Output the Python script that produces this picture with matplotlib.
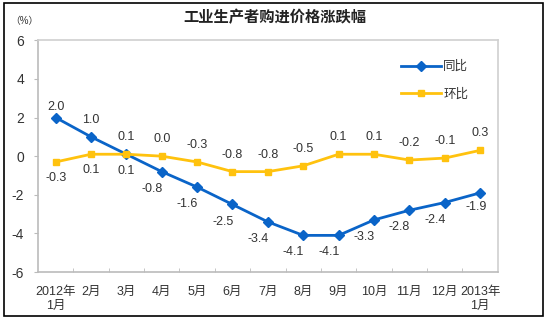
import matplotlib
matplotlib.use('Agg')
import matplotlib.pyplot as plt
from matplotlib.patches import Rectangle

plt.rcParams['font.family'] = ['Liberation Sans', 'Noto Sans CJK SC']

# 数据
months = ['2012年\n1月', '2月', '3月', '4月', '5月', '6月', '7月', '8月', '9月',
          '10月', '11月', '12月', '2013年\n1月']
yoy = [2.0, 1.0, 0.1, -0.8, -1.6, -2.5, -3.4, -4.1, -4.1, -3.3, -2.8, -2.4, -1.9]
mom = [-0.3, 0.1, 0.1, 0.0, -0.3, -0.8, -0.8, -0.5, 0.1, 0.1, -0.2, -0.1, 0.3]

blue = '#0A64C8'
yellow = '#FFC20E'
txt = '#333333'

fig = plt.figure(figsize=(5.5, 3.22), dpi=100)
ax = fig.add_axes([0.069, 0.155, 0.836, 0.72])

x = list(range(len(months)))
ax.plot(x, yoy, color=blue, lw=2, marker='D', ms=5, label='同比')
ax.plot(x, mom, color=yellow, lw=2, marker='s', ms=5, label='环比')

# 数据标签
for i, v in enumerate(yoy):
    if i == 0:
        ax.annotate(f'{v:.1f}', (i, v), xytext=(0, 3), textcoords='offset points',
                    ha='center', va='bottom', fontsize=9, color=txt)
    elif i == 1:
        ax.annotate(f'{v:.1f}', (i, v), xytext=(0, 8), textcoords='offset points',
                    ha='center', va='bottom', fontsize=9, color=txt)
    elif i == 2:
        ax.annotate(f'{v:.1f}', (i, v), xytext=(0, -8), textcoords='offset points',
                    ha='center', va='top', fontsize=9, color=txt)
    elif i == len(yoy) - 1:
        ax.annotate(f'{v:.1f}', (i, v), xytext=(-3, -6), textcoords='offset points',
                    ha='center', va='top', fontsize=9, color=txt)
    else:
        ax.annotate(f'{v:.1f}', (i, v), xytext=(-7, -8), textcoords='offset points',
                    ha='center', va='top', fontsize=9, color=txt)
for i, v in enumerate(mom):
    if i < 2:
        ax.annotate(f'{v:.1f}', (i, v), xytext=(0, -7), textcoords='offset points',
                    ha='center', va='top', fontsize=9, color=txt)
    else:
        ax.annotate(f'{v:.1f}', (i, v), xytext=(0, 8), textcoords='offset points',
                    ha='center', va='bottom', fontsize=9, color=txt)

ax.set_xlim(-0.5, len(months) - 0.5)
ax.set_ylim(-6, 6)
ax.set_yticks([-6, -4, -2, 0, 2, 4, 6])
ax.set_yticklabels(['-6', '-4', '-2', '0', '2', '4', '6'])
ax.set_xticks(x)
ax.set_xticklabels(months)
ax.tick_params(axis='x', length=0, labelsize=9, colors=txt, pad=10)
ax.set_xticks([i - 0.5 for i in range(1, len(months))], minor=True)
ax.tick_params(axis='x', which='minor', direction='in', length=3, color='#BBBBBB')
ax.tick_params(axis='y', length=3, color='#BBBBBB', labelsize=10, colors=txt, pad=7)
for s in ax.spines.values():
    s.set_color('#D0D0D0')
    s.set_linewidth(1.2)
ax.spines['left'].set_color('#BBBBBB')
ax.spines['bottom'].set_color('#BBBBBB')

leg = ax.legend(loc='upper right', bbox_to_anchor=(0.96, 0.96), frameon=False,
                fontsize=9, handlelength=3.2, labelspacing=1.2, handletextpad=0.2)
for t in leg.get_texts():
    t.set_color(txt)

fig.text(0.5, 0.945, '工业生产者购进价格涨跌幅', ha='center', va='center',
         fontsize=11, fontweight='bold', color='#222222')
fig.text(0.045, 0.935, '（%）', ha='center', va='center', fontsize=7, color=txt)

# 外框
fig.patches.append(Rectangle((0.008, 0.018), 0.98, 0.972, transform=fig.transFigure,
                             fill=False, edgecolor='black', lw=1.2))

fig.savefig('out.png', dpi=100)
